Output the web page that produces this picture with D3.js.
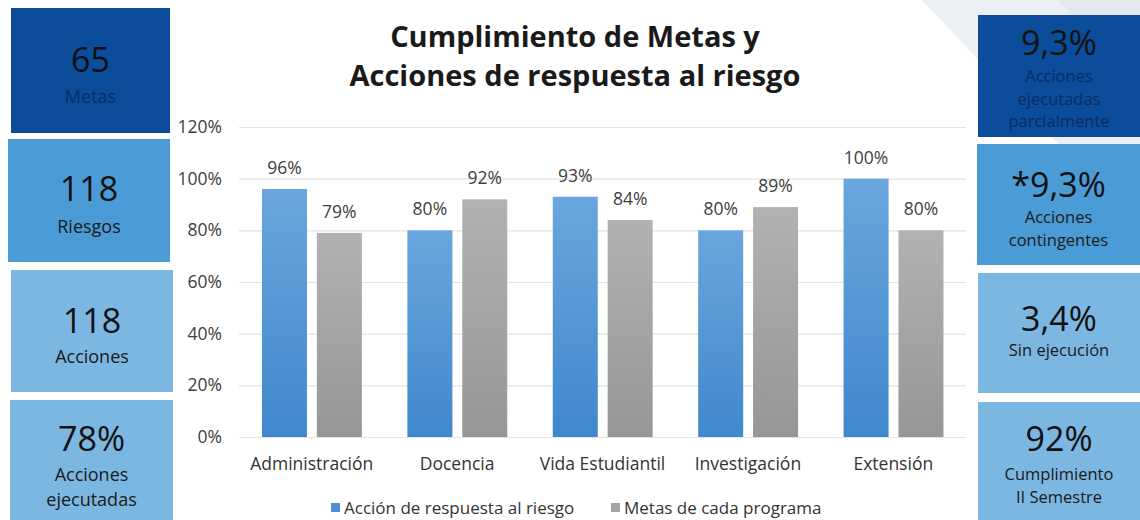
<!DOCTYPE html>
<html>
<head>
<meta charset="utf-8">
<script src="https://cdn.jsdelivr.net/npm/d3@7"></script>
<style>
  body { margin: 0; background: #fff; }
  text { font-family: "Open Sans", Lato, sans-serif; }
</style>
</head>
<body>
<div id="chart"></div>
<script>
// ---- data ----
const categories = ["Administración", "Docencia", "Vida Estudiantil", "Investigación", "Extensión"];
const seriesNames = ["Acción de respuesta al riesgo", "Metas de cada programa"];
const accionValues = [96, 80, 93, 80, 100];
const metasValues = [79, 92, 84, 89, 80];
const yTicks = [0, 20, 40, 60, 80, 100, 120];
const titleLines = ["Cumplimiento de Metas y", "Acciones de respuesta al riesgo"];

const leftNumbers = ["65", "118", "118", "78%"];
const leftLabels = [["Metas"], ["Riesgos"], ["Acciones"], ["Acciones", "ejecutadas"]];
const rightNumbers = ["9,3%", "*9,3%", "3,4%", "92%"];
const rightLabels = [["Acciones", "ejecutadas", "parcialmente"], ["Acciones", "contingentes"], ["Sin ejecución"], ["Cumplimiento", "II Semestre"]];

// ---- layout ----
const W = 1140, H = 520;
const plot = {left: 239, right: 966, top: 127, bottom: 437};
const boxFill = ["#0b4c9b", "#4b9bd7", "#7cb7e2", "#7cb7e2"];
const labelFill = ["#0a2c60", "#1a1a1a", "#1a1a1a", "#1a1a1a"];

const svg = d3.select("#chart").append("svg")
  .attr("width", W).attr("height", H);

const defs = svg.append("defs");
const gradBlue = defs.append("linearGradient").attr("id", "gBlue")
  .attr("x1", 0).attr("y1", 0).attr("x2", 0).attr("y2", 1);
gradBlue.append("stop").attr("offset", "0%").attr("stop-color", "#6aa6de");
gradBlue.append("stop").attr("offset", "100%").attr("stop-color", "#3f88cd");
const gradGray = defs.append("linearGradient").attr("id", "gGray")
  .attr("x1", 0).attr("y1", 0).attr("x2", 0).attr("y2", 1);
gradGray.append("stop").attr("offset", "0%").attr("stop-color", "#b2b2b2");
gradGray.append("stop").attr("offset", "100%").attr("stop-color", "#969696");

// light background wedge top right
svg.append("path").attr("d", "M922,0 L1140,0 L1140,230 Z").attr("fill", "#eceff3");
svg.append("path").attr("d", "M1057,0 L1140,0 L1140,80 Z").attr("fill", "#e4e7ec");

// ---- scales ----
const x0 = d3.scaleBand().domain(categories).range([plot.left, plot.right]);
const bw = x0.bandwidth();
const x1 = d3.scaleBand().domain(seriesNames)
  .range([bw * 0.158, bw * 0.845]).paddingInner(0.18);
const y = d3.scaleLinear().domain([0, 120]).range([plot.bottom, plot.top]);

// gridlines + y labels
const yAxis = svg.append("g")
  .attr("transform", "translate(" + plot.left + ",0)")
  .call(d3.axisLeft(y).tickValues(yTicks).tickFormat(d => d + "%")
    .tickSize(-(plot.right - plot.left)).tickPadding(17));
yAxis.select(".domain").remove();
yAxis.selectAll("line").attr("stroke", "#e3e3e3").attr("stroke-width", 1.2);
yAxis.selectAll("text").attr("fill", "#404040").attr("font-size", "17.5px");

// bars
const rows = categories.map((c, i) => ({cat: c, vals: [accionValues[i], metasValues[i]]}));
const groups = svg.append("g").selectAll("g").data(rows).enter().append("g")
  .attr("transform", d => "translate(" + x0(d.cat) + ",0)");
groups.selectAll("rect")
  .data(d => d.vals.map((v, j) => ({s: seriesNames[j], v: v, j: j})))
  .enter().append("rect")
  .attr("x", d => x1(d.s))
  .attr("y", d => y(d.v))
  .attr("width", x1.bandwidth())
  .attr("height", d => y(0) - y(d.v))
  .attr("fill", d => d.j === 0 ? "url(#gBlue)" : "url(#gGray)");
groups.selectAll("text.val")
  .data(d => d.vals.map((v, j) => ({s: seriesNames[j], v: v})))
  .enter().append("text").attr("class", "val")
  .attr("x", d => x1(d.s) + x1.bandwidth() / 2)
  .attr("y", d => y(d.v) - 15)
  .attr("text-anchor", "middle")
  .attr("font-size", "17.5px").attr("fill", "#404040")
  .text(d => d.v + "%");

// x labels
svg.append("g").selectAll("text").data(categories).enter().append("text")
  .attr("x", d => x0(d) + bw / 2)
  .attr("y", 470)
  .attr("text-anchor", "middle")
  .attr("font-size", "17.5px").attr("fill", "#333")
  .text(d => d);

// legend
const legX = [331, 611];
const leg = svg.append("g").selectAll("g").data(seriesNames).enter().append("g")
  .attr("transform", (d, i) => "translate(" + legX[i] + ",508)");
leg.append("rect").attr("x", 0).attr("y", -5).attr("width", 9).attr("height", 9)
  .attr("fill", (d, i) => i === 0 ? "#4a90d3" : "#a3a3a3");
leg.append("text").attr("x", 13).attr("y", 6)
  .attr("font-size", "17px").attr("fill", "#333").text(d => d);

// title
svg.append("g").selectAll("text").data(titleLines).enter().append("text")
  .attr("x", 575).attr("y", (d, i) => 47 + i * 39)
  .attr("text-anchor", "middle")
  .attr("font-size", "29px").attr("font-weight", "bold").attr("fill", "#1a1a1a")
  .text(d => d);

// side boxes
const leftBoxes = [
  {x: 11, y: 8, w: 159, h: 125, ny: 72, ly: 103},
  {x: 8, y: 139, w: 162, h: 123, ny: 201, ly: 233},
  {x: 11, y: 270, w: 162, h: 122, ny: 333, ly: 363},
  {x: 10, y: 400, w: 163, h: 125, ny: 451, ly: 481}
];
const rightBoxes = [
  {x: 978, y: 15, w: 162, h: 122, ny: 55, ly: 82},
  {x: 977, y: 144, w: 163, h: 121, ny: 197, ly: 223},
  {x: 978, y: 273, w: 162, h: 120, ny: 331, ly: 356},
  {x: 978, y: 402, w: 162, h: 125, ny: 451, ly: 480}
];
function drawBoxes(boxes, nums, labels, lineH, lblSize) {
  const g = svg.append("g").selectAll("g").data(boxes).enter().append("g");
  g.append("rect").attr("x", d => d.x).attr("y", d => d.y)
    .attr("width", d => d.w).attr("height", d => d.h)
    .attr("fill", (d, i) => boxFill[i]);
  g.append("text").attr("x", d => d.x + d.w / 2).attr("y", d => d.ny)
    .attr("text-anchor", "middle").attr("font-size", "34px").attr("fill", "#111")
    .text((d, i) => nums[i]);
  g.each(function(d, i) {
    d3.select(this).selectAll("text.lbl").data(labels[i]).enter().append("text")
      .attr("class", "lbl")
      .attr("x", d.x + d.w / 2).attr("y", (t, k) => d.ly + k * lineH)
      .attr("text-anchor", "middle").attr("font-size", lblSize)
      .attr("fill", labelFill[i]).text(t => t);
  });
}
drawBoxes(leftBoxes, leftNumbers, leftLabels, 25, "18px");
drawBoxes(rightBoxes, rightNumbers, rightLabels, 22.5, "16.5px");
</script>
</body>
</html>
